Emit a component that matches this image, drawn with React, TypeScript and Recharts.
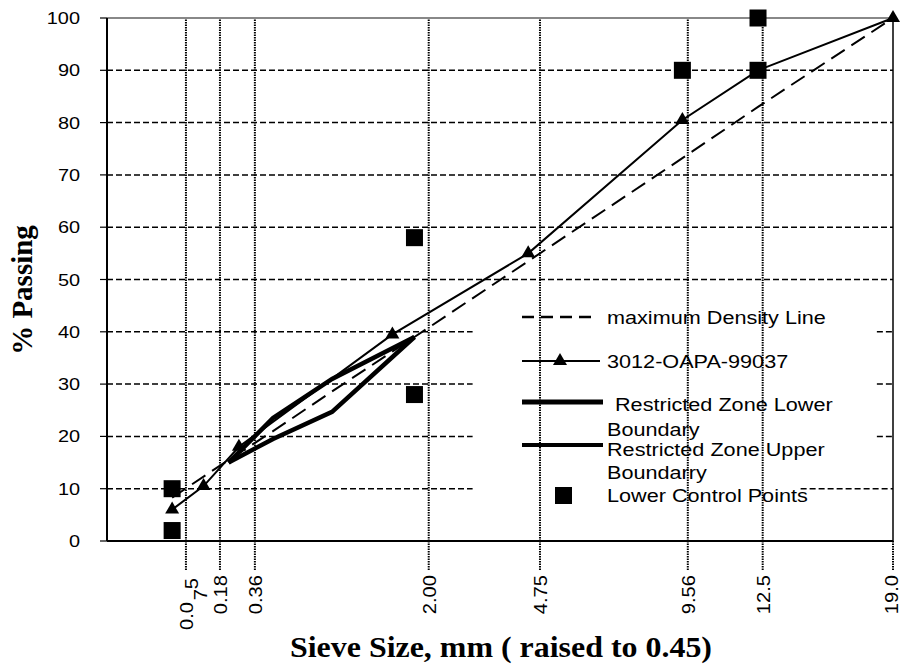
import { ComposedChart, Line, Scatter, XAxis, YAxis, ReferenceLine, Legend } from 'recharts';

const SANS = '"Liberation Sans", Arial, sans-serif';
const SERIF = '"Liberation Serif", "Times New Roman", serif';

// x axis is sieve size raised to the 0.45 power
const raise = (d: number) => Math.pow(d, 0.45);
const X_MAX = raise(19);

// where the dotted sieve gridlines sit (mm), and what they are labelled
const gridSizes = [0.115, 0.255, 0.464, 2.61, 5.05, 9.7, 12.7, 19.0];
const tickLabels = ['0.075', '0.18', '0.36', '2.00', '4.75', '9.56', '12.5', '19.0'];
const passingTicks = [0, 10, 20, 30, 40, 50, 60, 70, 80, 90, 100];

const densitySizes = [0.075, 0.3, 0.6, 1.18, 2.36, 4.75, 9.5, 12.5, 19];
const densityPassing = [8.3, 15.5, 21, 28.6, 39, 53.5, 73.2, 83, 100];

const mixSizes = [0.075, 0.18, 0.36, 2.0, 4.75, 9.5, 12.5, 19];
const mixPassing = [6, 10.5, 18, 39.5, 55, 80.5, 90, 100];

const zoneSizes = [0.3, 0.6, 1.18, 2.36];
const zoneLower = [15, 19.5, 24.7, 39];
const zoneUpper = [15, 23.5, 31, 39];

const controlSizes = [0.075, 0.075, 2.36, 2.36, 9.5, 12.5, 12.5];
const controlPassing = [2, 10, 28, 58, 90, 90, 100];

// horizontal gridlines are blanked out behind the legend
const legendGapFrom = 1.75;
const legendGapTo = 3.685;
const lastRowGapTo = 3.32;

const toPoints = (sizes: number[], values: number[]) =>
  sizes.map((d, i) => ({ t: raise(d), v: values[i] }));

const densityData = toPoints(densitySizes, densityPassing);
const mixData = toPoints(mixSizes, mixPassing);
const lowerData = toPoints(zoneSizes, zoneLower);
const upperData = toPoints(zoneSizes, zoneUpper);
const controlData = toPoints(controlSizes, controlPassing);
const xTicks = gridSizes.map(raise);

const Triangle = ({ cx, cy }: { cx: number; cy: number }) => (
  <path d={`M${cx},${cy - 8}L${cx + 7},${cy + 4}L${cx - 7},${cy + 4}Z`} fill="#000" />
);

const YTick = ({ y, payload }: any) => (
  <g>
    <text
      transform={`translate(80, ${y + 6}) scale(1.17, 1)`}
      textAnchor="end"
      fontFamily={SANS}
      fontSize={17}
      fill="#000"
    >
      {payload.value}
    </text>
  </g>
);

const rotated = (x: number, y: number, s: string) => (
  <text
    transform={`translate(${x}, ${y}) rotate(-90) scale(1.12, 1)`}
    textAnchor="end"
    fontFamily={SANS}
    fontSize={18}
    fill="#000"
  >
    {s}
  </text>
);

const XTick = ({ x, index }: any) => {
  const label = tickLabels[index];
  if (index === 0) {
    // the 0.075 label is broken up in the original
    return (
      <g>
        {rotated(x + 7, 602, label.slice(0, 3))}
        {rotated(x + 12, 578, label[4])}
        {rotated(x + 21, 589, label[3])}
      </g>
    );
  }
  const dx = index === tickLabels.length - 1 ? 5 : 7;
  return <g>{rotated(x + dx, 575, label)}</g>;
};

const legendText = (x: number, y: number, s: string) => (
  <text
    transform={`translate(${x}, ${y}) scale(1.17, 1)`}
    fontFamily={SANS}
    fontSize={18.5}
    fill="#000"
  >
    {s}
  </text>
);

const LegendBox = () => (
  <svg width={390} height={220} style={{ overflow: 'visible' }}>
    <line x1={12} y1={22} x2={85} y2={22} stroke="#000" strokeWidth={2.5} strokeDasharray="12 7" />
    {legendText(97, 29, 'maximum Density Line')}
    <line x1={12} y1={66} x2={90} y2={66} stroke="#000" strokeWidth={2} />
    <Triangle cx={50} cy={66} />
    {legendText(97, 73, '3012-OAPA-99037')}
    <line x1={12} y1={107} x2={93} y2={107} stroke="#000" strokeWidth={5} />
    {legendText(105, 116, 'Restricted Zone Lower')}
    {legendText(97, 141, 'Boundary')}
    <line x1={12} y1={150} x2={93} y2={150} stroke="#000" strokeWidth={4} />
    {legendText(97, 161, 'Restricted Zone Upper')}
    {legendText(97, 184, 'Boundarry')}
    <rect x={45} y={192} width={17} height={17} fill="#000" />
    {legendText(97, 207, 'Lower Control Points')}
  </svg>
);

export default function App() {
  return (
    <div style={{ position: 'absolute', left: 0, top: 0, width: 901, height: 669, background: '#fff' }}>
      <ComposedChart width={901} height={669} margin={{ top: 18, right: 8, bottom: 0, left: 0 }}>
        <XAxis
          type="number"
          dataKey="t"
          domain={[0, X_MAX]}
          ticks={xTicks}
          interval={0}
          height={128}
          tick={XTick}
          tickSize={29}
          tickLine={{ stroke: '#000', strokeWidth: 2, strokeDasharray: '1.5 1' }}
          axisLine={{ stroke: '#000', strokeWidth: 2 }}
        />
        <YAxis
          type="number"
          dataKey="v"
          domain={[0, 100]}
          ticks={passingTicks}
          interval={0}
          width={107}
          tick={YTick}
          tickSize={7}
          tickLine={{ stroke: '#000', strokeWidth: 1.2 }}
          axisLine={{ stroke: '#000', strokeWidth: 2 }}
        />

        {xTicks.slice(0, -1).map((t) => (
          <ReferenceLine key={'vx' + t} x={t} stroke="#000" strokeWidth={2} strokeDasharray="1.5 1" />
        ))}
        {passingTicks.slice(1, -1).map((v) => {
          const style = { stroke: '#000', strokeWidth: 1.5, strokeDasharray: '6 3' };
          if (v > 40) return <ReferenceLine key={'hy' + v} y={v} {...style} />;
          const to = v === 10 ? lastRowGapTo : legendGapTo;
          return [
            <ReferenceLine key={'hya' + v} segment={[{ x: 0, y: v }, { x: legendGapFrom, y: v }]} {...style} />,
            <ReferenceLine key={'hyb' + v} segment={[{ x: to, y: v }, { x: X_MAX, y: v }]} {...style} />,
          ];
        })}
        <ReferenceLine y={100} stroke="#888" strokeWidth={2} />
        <ReferenceLine x={X_MAX} stroke="#000" strokeWidth={1.5} />

        <Line
          data={densityData}
          dataKey="v"
          type="linear"
          stroke="#000"
          strokeWidth={2}
          strokeDasharray="16 8"
          dot={false}
          activeDot={false}
          isAnimationActive={false}
        />
        <Line
          data={lowerData}
          dataKey="v"
          type="linear"
          stroke="#000"
          strokeWidth={4.5}
          dot={false}
          activeDot={false}
          isAnimationActive={false}
        />
        <Line
          data={upperData}
          dataKey="v"
          type="linear"
          stroke="#000"
          strokeWidth={4.5}
          dot={false}
          activeDot={false}
          isAnimationActive={false}
        />
        <Line
          data={mixData}
          dataKey="v"
          type="linear"
          stroke="#000"
          strokeWidth={2}
          dot={(p: any) => <Triangle key={'tri' + p.index} cx={p.cx} cy={p.cy} />}
          activeDot={false}
          isAnimationActive={false}
        />
        <Scatter
          data={controlData}
          dataKey="v"
          isAnimationActive={false}
          shape={(p: any) => <rect x={p.cx - 8.5} y={p.cy - 8.5} width={17} height={17} fill="#000" />}
        />

        <Legend
          layout="horizontal"
          verticalAlign="middle"
          align="center"
          content={() => <LegendBox />}
          wrapperStyle={{ left: 510, top: 295, width: 390, height: 220 }}
        />
      </ComposedChart>
      <svg width={901} height={669} style={{ position: 'absolute', left: 0, top: 0, pointerEvents: 'none' }}>
        <text
          x={290}
          y={657}
          textLength={422}
          lengthAdjust="spacingAndGlyphs"
          fontFamily={SERIF}
          fontWeight="bold"
          fontSize={29}
          fill="#000"
        >
          Sieve Size, mm ( raised to 0.45)
        </text>
        <text
          transform="translate(32, 290) rotate(-90)"
          textAnchor="middle"
          fontFamily={SERIF}
          fontWeight="bold"
          fontSize={29}
          fill="#000"
        >
          % Passing
        </text>
      </svg>
    </div>
  );
}
